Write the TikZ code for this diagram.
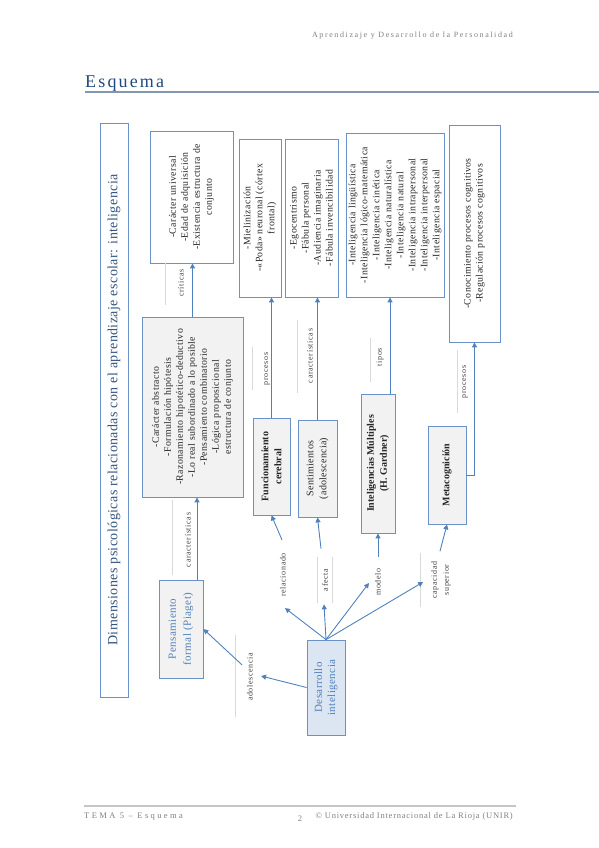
\documentclass[tikz,border=0pt]{standalone}
\usepackage{fontspec}
\setmainfont{Liberation Serif}
\usetikzlibrary{arrows.meta,calc}
\definecolor{bcol}{HTML}{6A92C8}
\definecolor{acol}{HTML}{4F81BD}
\definecolor{gfill}{HTML}{F2F2F2}
\definecolor{bfill}{HTML}{DCE6F2}
\definecolor{btext}{HTML}{4F81BD}
\definecolor{ttext}{HTML}{34557F}
\definecolor{dtext}{HTML}{262626}
\definecolor{ltext}{HTML}{404040}
\definecolor{hgray}{HTML}{808080}
\definecolor{sepcol}{HTML}{D9D9D9}
\definecolor{esqblue}{HTML}{1F497D}
\definecolor{esqline}{HTML}{8497B0}
\begin{document}
\begin{tikzpicture}[x=1pt,y=-1pt,
  box/.style={draw=bcol, line width=0.8pt, rotate=90, align=center, inner sep=2pt, text=dtext,
    font=\fontsize{9.8}{12}\selectfont\addfontfeature{LetterSpace=4}},
  headbox/.style={box, font=\fontsize{10}{13}\selectfont\addfontfeature{LetterSpace=3}},
  lab/.style={rotate=90, align=center, inner sep=1pt, text=ltext,
    font=\fontsize{8}{12}\selectfont\addfontfeature{LetterSpace=8}},
  arr/.style={draw=acol, line width=0.9pt, -{Triangle[width=5pt,length=5pt]}},
  sep/.style={draw=sepcol, line width=0.6pt},
  hdr/.style={inner sep=0pt, text=hgray, font=\fontsize{8}{10}\selectfont\addfontfeature{LetterSpace=20}},
  ftr/.style={inner sep=0pt, text=hgray, font=\fontsize{8.5}{10}\selectfont\addfontfeature{LetterSpace=9}}
]
\useasboundingbox (0,0) rectangle (599,848);

% header / footer
\node[hdr, anchor=east] (hd) at (513,36) {Aprendizaje y Desarrollo de la Personalidad};
\node[inner sep=0pt, anchor=base west, text=esqblue, font=\fontsize{18}{20}\selectfont\addfontfeature{LetterSpace=12}] (esq) at (85,88) {Esquema};
\coordinate (ul1) at (85,92); \coordinate (ul2) at (599,92);
\draw[draw=esqline, line width=1.6pt] (ul1) -- (ul2);
\coordinate (fl1) at (84,806); \coordinate (fl2) at (516,806);
\draw[draw=gray!45, line width=1.5pt] (fl1) -- (fl2);
\node[ftr, anchor=base west, font=\fontsize{8.5}{10}\selectfont\addfontfeature{LetterSpace=28}] (ft1) at (84,818) {TEMA 5 – Esquema};
\node[ftr, anchor=base] (ft2) at (300,821) {2};
\node[ftr, anchor=base east] (ft3) at (513,818) {© Universidad Internacional de La Rioja (UNIR)};

% main title box
\node[box, fill=white, minimum width=574, minimum height=28, text=ttext,
  font=\fontsize{14}{16}\selectfont\addfontfeature{LetterSpace=3}] (title) at (114,410)
  {Dimensiones psicológicas relacionadas con el aprendizaje escolar: inteligencia};

% boxes
\node[box, fill=white, minimum width=132, minimum height=83] (crit) at (191.5,197)
  {-Carácter universal\\-Edad de adquisición\\-Existencia estructura de\\conjunto};
\node[box, fill=gfill, minimum width=180, minimum height=101] (char) at (192.5,407)
  {-Carácter abstracto\\-Formulación hipótesis\\-Razonamiento hipotético-deductivo\\-Lo real subordinado a lo posible\\-Pensamiento combinatorio\\-Lógica proposicional\\estructura de conjunto};
\node[box, fill=gfill, minimum width=98, minimum height=44, text=btext,
  font=\fontsize{11}{15}\selectfont\addfontfeature{LetterSpace=4}] (pf) at (181,629)
  {Pensamiento\\formal (Piaget)};
\node[box, fill=bfill, minimum width=95, minimum height=38, text=btext,
  font=\fontsize{11}{13}\selectfont\addfontfeature{LetterSpace=4}] (des) at (326,687.5)
  {Desarrollo\\inteligencia};
\node[headbox, fill=gfill, minimum width=97, minimum height=37, font=\fontsize{10}{13}\selectfont\bfseries] (func) at (271.5,466.5)
  {Funcionamiento\\cerebral};
\node[headbox, fill=gfill, minimum width=97, minimum height=39] (sent) at (317.5,468.5)
  {Sentimientos\\(adolescencia)};
\node[headbox, fill=gfill, minimum width=139, minimum height=34, font=\fontsize{10}{13}\selectfont\bfseries] (im) at (378,463.5)
  {Inteligencias Múltiples\\(H. Gardner)};
\node[headbox, fill=gfill, minimum width=98, minimum height=38, font=\fontsize{10}{13}\selectfont\bfseries] (meta) at (447,475)
  {Metacognición};
\node[box, fill=white, minimum width=158, minimum height=42] (miel) at (260,218)
  {-Mielinización\\-«Poda» neuronal (córtex\\frontal)};
\node[box, fill=white, minimum width=158, minimum height=53] (ego) at (311.5,218)
  {-Egocentrismo\\-Fábula personal\\-Audiencia imaginaria\\-Fábula invencibilidad};
\node[box, fill=white, minimum width=164, minimum height=98] (list) at (395,215)
  {-Inteligencia lingüística\\-Inteligencia lógico-matemática\\-Inteligencia cinética\\-Inteligencia naturalística\\-Inteligencia natural\\-Inteligencia intrapersonal\\-Inteligencia interpersonal\\-Inteligencia espacial};
\node[box, fill=white, minimum width=217, minimum height=51] (con) at (474.5,233.5)
  {-Conocimiento procesos cognitivos\\-Regulación procesos cognitivos};

% labels
\node[lab] (crl) at (181,283) {críticas};
\node[lab] (car1) at (188,540) {características};
\node[lab] (adol) at (250,677) {adolescencia};
\node[lab] (rel) at (283,575) {relacionado};
\node[lab] (afe) at (325,580) {afecta};
\node[lab] (mod) at (378,582) {modelo};
\node[lab] (cap) at (441,580) {capacidad\\superior};
\node[lab] (pro1) at (267,369) {procesos};
\node[lab] (car2) at (310,356) {características};
\node[lab] (tip) at (380,357) {tipos};
\node[lab] (pro2) at (465,382) {procesos};

% gray separator lines beside labels
\draw[sep] (165,263) -- (165,305);
\draw[sep] (172,500) -- (172,575);
\draw[sep] (235,635) -- (235,717);
\draw[sep] (252,347) -- (252,390);
\draw[sep] (297,320) -- (297,393);
\draw[sep] (370,338) -- (370,382);
\draw[sep] (457,350) -- (457,413);
\draw[sep] (420,553) -- (420,607);
\draw[sep] (317,557) -- (317,603);
\draw[sep] (332,557) -- (332,603);

% connectors
\draw[arr] (char.east) -- (char.east |- crit.west);
\coordinate (p1) at ($(pf.east)+(16,0)$);
\draw[arr] (p1) -- (p1 |- char.west);
\draw[arr] (des.north) -- ($(adol.south)+(7,-1)$);
\draw[arr] ($(adol.north east)+(-4,13)$) -- (pf.south);
\draw[arr] (des.east) -- ($(rel.west)+(2,10)$);
\draw[arr] ($(rel.east)+(-1,-12)$) -- (func.west);
\draw[arr] (des.east) -- ($(afe.west)+(-1,12)$);
\draw[arr] ($(afe.east)+(-4,-19)$) -- (sent.west);
\draw[arr] (des.east) -- ($(mod.north)+(-5,1)$);
\draw[arr] ($(mod.east)+(0,-10)$) -- (im.west);
\draw[arr] (des.east) -- ($(cap.north)+(-7,2)$);
\draw[arr] ($(cap.east)+(-1,-9)$) -- (meta.west);
\draw[arr] (func.east) -- (func.east |- miel.west);
\draw[arr] (sent.east) -- (sent.east |- ego.west);
\coordinate (p2) at ($(im.east)+(12,0)$);
\draw[arr] (p2) -- (p2 |- list.west);
\draw[arr] (meta.south) -| (con.west);
\end{tikzpicture}
\end{document}
